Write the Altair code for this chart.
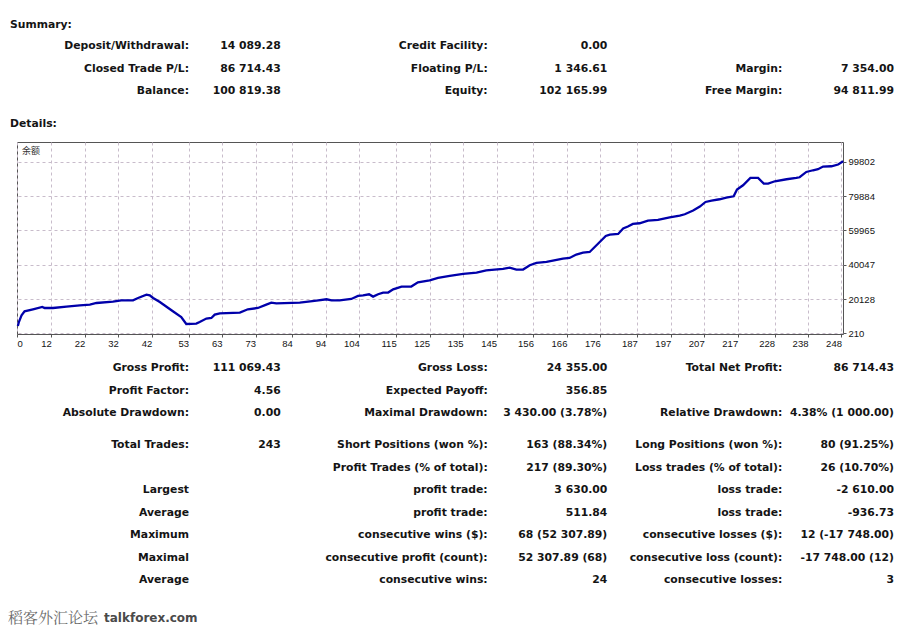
import altair as alt
import pandas as pd

# ---------------- data ----------------
trade_index = [2.0, 2.3, 3.1, 4.0, 6.5, 9.3, 10.0, 12.5, 16.5, 20.5, 23.5, 25.5, 30.4, 32.9,
               36.4, 37.9, 40.4, 41.4, 42.4, 44.4, 48.3, 50.8, 52.3, 55.3, 56.3, 58.3, 59.8,
               60.8, 62.3, 68.3, 70.7, 73.7, 76.2, 77.7, 79.2, 86.2, 91.2, 94.2, 95.7, 98.1,
               101.6, 103.6, 105.1, 106.9, 108.1, 109.6, 111.1, 112.6, 114.1, 116.6, 119.5,
               121.5, 125.0, 127.5, 131.0, 135.0, 139.0, 141.9, 146.9, 148.9, 150.9, 152.9,
               154.9, 156.9, 159.9, 161.8, 164.8, 166.8, 168.8, 170.8, 172.8, 174.3, 175.8,
               177.6, 178.8, 181.3, 182.8, 184.2, 185.7, 187.7, 190.2, 193.2, 196.7, 199.7,
               201.2, 203.7, 205.7, 207.4, 209.2, 211.6, 213.6, 215.8, 216.8, 218.6, 220.8,
               223.1, 224.8, 226.1, 228.1, 231.6, 234.5, 235.5, 237.5, 239.5, 241.0, 242.5,
               245.0, 247.0, 248.5]
balance = [4454, 6780, 10675, 13001, 14164, 15501, 14919, 14919, 15733, 16489, 16896, 17826,
           18640, 19396, 19396, 20733, 22710, 22303, 20733, 18408, 13001, 9687, 5617, 5850,
           6780, 8757, 9105, 11082, 11838, 12245, 14164, 14919, 16896, 18059, 17652, 18059,
           19222, 19978, 19396, 19396, 20152, 21896, 22303, 22885, 21547, 22885, 23873, 23873,
           25792, 27361, 27361, 29861, 31024, 32361, 33524, 34687, 35501, 36838, 37594, 38408,
           37245, 37245, 39745, 41082, 41664, 42478, 43641, 43990, 45966, 47129, 47478, 50385,
           53292, 56780, 57594, 57943, 61083, 62246, 63757, 64164, 65734, 66083, 67652, 68641,
           69397, 71548, 73874, 76548, 77362, 78118, 79106, 79862, 83757, 86257, 90501, 90501,
           87246, 87246, 88583, 89746, 90501, 90908, 93990, 94978, 95560, 97129, 97304, 98292,
           100211]

x_tick_labels = [0, 12, 22, 32, 42, 53, 63, 73, 84, 94, 104, 115, 125, 135, 145, 156, 166,
                 176, 187, 197, 207, 217, 228, 238, 248]
y_tick_values = [210, 20128, 40047, 59965, 79884, 99802]
chart_caption = "余额"

summary_title = "Summary:"
details_title = "Details:"
summary_labels_1 = ["Deposit/Withdrawal:", "Closed Trade P/L:", "Balance:"]
summary_values_1 = ["14 089.28", "86 714.43", "100 819.38"]
summary_labels_2 = ["Credit Facility:", "Floating P/L:", "Equity:"]
summary_values_2 = ["0.00", "1 346.61", "102 165.99"]
summary_labels_3 = ["", "Margin:", "Free Margin:"]
summary_values_3 = ["", "7 354.00", "94 811.99"]

stats_labels_1 = ["Gross Profit:", "Profit Factor:", "Absolute Drawdown:", "Total Trades:", "",
                  "Largest", "Average", "Maximum", "Maximal", "Average"]
stats_values_1 = ["111 069.43", "4.56", "0.00", "243", "", "", "", "", "", ""]
stats_labels_2 = ["Gross Loss:", "Expected Payoff:", "Maximal Drawdown:", "Short Positions (won %):",
                  "Profit Trades (% of total):", "profit trade:", "profit trade:",
                  "consecutive wins ($):", "consecutive profit (count):", "consecutive wins:"]
stats_values_2 = ["24 355.00", "356.85", "3 430.00 (3.78%)", "163 (88.34%)", "217 (89.30%)",
                  "3 630.00", "511.84", "68 (52 307.89)", "52 307.89 (68)", "24"]
stats_labels_3 = ["Total Net Profit:", "", "Relative Drawdown:", "Long Positions (won %):",
                  "Loss trades (% of total):", "loss trade:", "loss trade:",
                  "consecutive losses ($):", "consecutive loss (count):", "consecutive losses:"]
stats_values_3 = ["86 714.43", "", "4.38% (1 000.00)", "80 (91.25%)", "26 (10.70%)",
                  "-2 610.00", "-936.73", "12 (-17 748.00)", "-17 748.00 (12)", "3"]

watermark_cjk = "稻客外汇论坛"
watermark_latin = "talkforex.com"

# ---------------- layout / style ----------------
PLOT_W, PLOT_H = 826, 192
X_DOMAIN = [1.74, 248.46]
Y_DOMAIN = [-200, 111400]
TEXT_FONT = "DejaVu Sans"
AXIS_FONT = "Liberation Sans"
TEXT_COLOR = "#141414"
GRID_COLOR = "#c8bccb"
FRAME_COLOR = "#555555"
LINE_COLOR = "#0000aa"

# text anchors relative to the plot's top-left corner
SUMMARY_ROW_Y = [-96, -73.5, -51]
STATS_ROW_Y = [226.3, 248.5, 270.7, 303, 325.6, 348.2, 370.7, 393.3, 415.7, 438]
COL_RIGHT = [172, 263.7, 470.7, 590.3, 765.3, 877]

cells = []
for col, arr in enumerate([summary_labels_1, summary_values_1, summary_labels_2,
                           summary_values_2, summary_labels_3, summary_values_3]):
    for r, t in enumerate(arr):
        if t:
            cells.append({"text": t, "px": COL_RIGHT[col], "py": SUMMARY_ROW_Y[r]})
for col, arr in enumerate([stats_labels_1, stats_values_1, stats_labels_2,
                           stats_values_2, stats_labels_3, stats_values_3]):
    for r, t in enumerate(arr):
        if t:
            cells.append({"text": t, "px": COL_RIGHT[col], "py": STATS_ROW_Y[r]})
cells_df = pd.DataFrame(cells)

headers_df = pd.DataFrame([
    {"text": summary_title, "px": -7, "py": -117.5},
    {"text": details_title, "px": -7, "py": -18.5},
])

line_df = pd.DataFrame({"trade": trade_index, "balance": balance})

x_tick_values = [X_DOMAIN[0]] + x_tick_labels[1:]

x_axis = alt.Axis(
    values=x_tick_values,
    labelExpr="datum.value < 5 ? '0' : format(datum.value, 'd')",
    labelAlign={"condition": {"test": "datum.value < 5", "value": "left"}, "value": "right"},
    grid=True, gridDash=[3, 3], gridColor=GRID_COLOR, gridWidth=1,
    domain=False, ticks=True, tickSize=3, tickColor=FRAME_COLOR,
    labelFont=AXIS_FONT, labelFontSize=9.5, labelColor=TEXT_COLOR, labelPadding=1,
    labelBaseline="top", labelOverlap=False, labelFlush=False, title=None,
)
y_axis = alt.Axis(
    orient="right", values=y_tick_values, format="d",
    grid=True, gridDash=[3, 3], gridColor=GRID_COLOR, gridWidth=1,
    domain=False, ticks=True, tickSize=3, tickColor=FRAME_COLOR,
    labelFont=AXIS_FONT, labelFontSize=9.5, labelColor=TEXT_COLOR, labelPadding=2,
    labelAlign="left", labelBaseline="middle", labelOverlap=False, labelFlush=False,
    title=None,
)

line = alt.Chart(line_df).mark_line(color=LINE_COLOR, strokeWidth=2.3).encode(
    x=alt.X("trade:Q", scale=alt.Scale(domain=X_DOMAIN, nice=False, zero=False), axis=x_axis),
    y=alt.Y("balance:Q", scale=alt.Scale(domain=Y_DOMAIN, nice=False, zero=False), axis=y_axis),
)

caption = alt.Chart(pd.DataFrame({"text": [chart_caption]})).mark_text(
    align="left", baseline="middle", font="Noto Sans CJK SC", fontSize=9, color="#333333"
).encode(text="text:N", x=alt.value(5), y=alt.value(9))

cells_layer = alt.Chart(cells_df).mark_text(
    align="right", baseline="middle", font=TEXT_FONT, fontSize=10.8, fontWeight="bold",
    color=TEXT_COLOR
).encode(
    text="text:N",
    x=alt.X("px:Q", scale=None, axis=None),
    y=alt.Y("py:Q", scale=None, axis=None),
)

headers_layer = alt.Chart(headers_df).mark_text(
    align="left", baseline="middle", font=TEXT_FONT, fontSize=10.8, fontWeight="bold",
    color=TEXT_COLOR
).encode(
    text="text:N",
    x=alt.X("px:Q", scale=None, axis=None),
    y=alt.Y("py:Q", scale=None, axis=None),
)

wm_cjk = alt.Chart(pd.DataFrame({"text": [watermark_cjk]})).mark_text(
    align="left", baseline="middle", font="Noto Serif CJK SC, Noto Sans CJK SC", fontSize=15,
    color="#6a6a6a"
).encode(text="text:N", x=alt.value(-9), y=alt.value(476))

wm_latin = alt.Chart(pd.DataFrame({"text": [watermark_latin]})).mark_text(
    align="left", baseline="middle", font="DejaVu Sans", fontSize=12, fontWeight="bold",
    color="#4a4a4a"
).encode(text="text:N", x=alt.value(87), y=alt.value(476))

chart = alt.layer(
    line, caption, cells_layer, headers_layer, wm_cjk, wm_latin
).properties(
    width=PLOT_W, height=PLOT_H,
    padding={"left": 9, "top": 134, "right": 51, "bottom": 292},
    autosize=alt.AutoSizeParams(type="none"),
    background="white",
).configure_view(stroke=FRAME_COLOR, strokeWidth=1)

chart.save("out.html", embed_options={"renderer": "svg", "actions": False})
